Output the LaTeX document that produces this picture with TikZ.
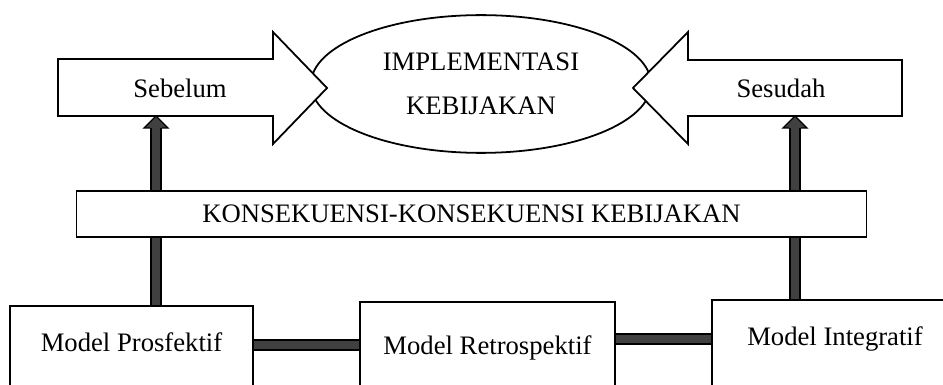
\documentclass[tikz,border=0pt]{standalone}
\usepackage{fontspec}
\setmainfont{Liberation Serif}
\usepackage{xcolor}
\usepackage{tikz}
\usetikzlibrary{shapes.geometric}
\definecolor{shaftgray}{HTML}{404040}

\begin{document}
\begin{tikzpicture}[x=0.45pt, y=-0.45pt,
  font=\fontsize{12}{19.8}\selectfont,
  bigarrow/.style={draw, fill=white, line width=0.8pt, line join=miter},
  konsekbox/.style={draw, fill=white, line width=0.8pt, minimum width=355.5pt, minimum height=20.7pt},
  modelbox/.style={draw, fill=white, line width=0.8pt, anchor=north, inner ysep=12pt, text depth=40pt},
  shaft/.style={line width=0.6pt, double=shaftgray, double distance=3.8pt},
  headline/.style={line width=0.6pt, line join=miter}]
\useasboundingbox (0,0) rectangle (943,385);
\clip (0,0) rectangle (943,385);
\node[draw, ellipse, line width=0.8pt, minimum width=153pt, minimum height=62pt, align=center] (impl) at (481,84) {IMPLEMENTASI\\KEBIJAKAN};
\draw[bigarrow] (58,59) -- (273,59) -- (273,32) -- (327,88) -- (273,144) -- (273,116) -- (58,116) -- cycle;
\draw[bigarrow] (902,60) -- (688,60) -- (688,32) -- (633,88) -- (688,144) -- (688,116) -- (902,116) -- cycle;
\node (sebelum) at (180,88) {Sebelum};
\node (sesudah) at (781,88) {Sesudah};
\node[konsekbox] (konsek) at (471.5,214) {KONSEKUENSI-KONSEKUENSI KEBIJAKAN};
\node[modelbox, minimum width=109.4pt] (prof) at (131.5,305) {Model Prosfektif};
\node[modelbox, minimum width=114.8pt, text height=11.8pt] (retro) at (487.5,301) {Model Retrospektif};
\node[modelbox, minimum width=110.7pt] (integ) at (835,299) {Model Integratif};
\coordinate (sebBase) at (156,116);
\coordinate (sesBase) at (795,116);
\coordinate (barA) at (300,345);
\coordinate (barB) at (660,339);
\draw[shaft] (prof.north -| sebBase) -- (konsek.south -| sebBase);
\draw[shaft] (integ.north -| sesBase) -- (konsek.south -| sesBase);
\draw[shaft, shorten >=5pt] (konsek.north -| sebBase) -- (sebBase);
\draw[shaft, shorten >=5pt] (konsek.north -| sesBase) -- (sesBase);
\fill[shaftgray] (sebBase) -- ++(12,12) -- ++(-24,0) -- cycle;
\draw[headline] (sebBase) ++(6,12) -- ++(6,0) -- (sebBase) -- ++(-12,12) -- ++(6,0);
\fill[shaftgray] (sesBase) -- ++(12,12) -- ++(-24,0) -- cycle;
\draw[headline] (sesBase) ++(6,12) -- ++(6,0) -- (sesBase) -- ++(-12,12) -- ++(6,0);
\draw[shaft] (prof.east |- barA) -- (retro.west |- barA);
\draw[shaft] (retro.east |- barB) -- (integ.west |- barB);
\end{tikzpicture}
\end{document}
